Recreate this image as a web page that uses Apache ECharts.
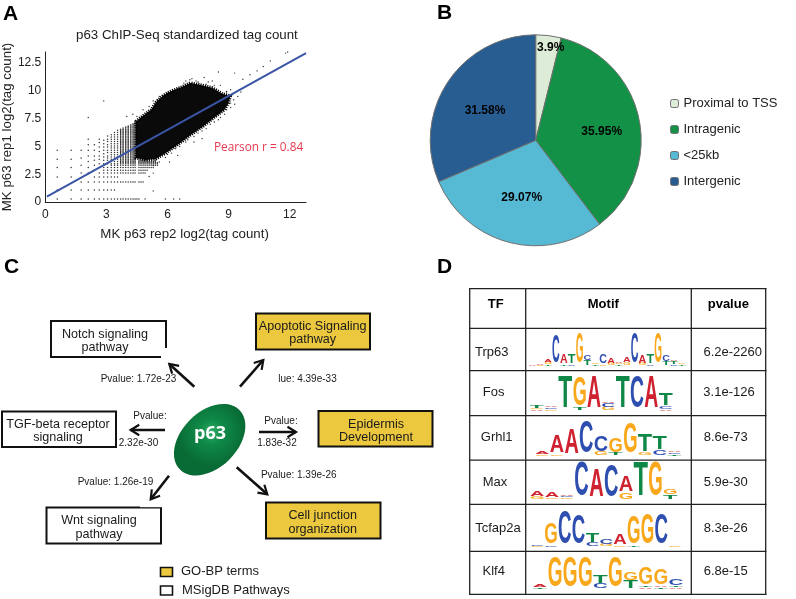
<!DOCTYPE html>
<html><head><meta charset="utf-8">
<style>html,body{margin:0;padding:0;background:#fff}#c{width:796px;height:599px}</style>
<script src="https://cdn.jsdelivr.net/npm/echarts@6/dist/echarts.min.js"></script>
</head><body><div id="c"></div>
<script>
// ---------- Panel A data ----------
const xLevels=[0.59,1.27,1.76,2.11,2.41,2.65,2.87,3.06,3.24,3.4,3.55,3.7,3.82,3.95,4.07,4.2,4.31,4.41,4.5,4.6,4.7,4.8,4.9,5.0,5.1,5.2,5.3,5.4,5.5,5.6,5.7,5.85,6.0,6.2,6.35,6.6];
const columnTops=[5.4,5.3,5.2,5.75,5.3,5.85,5.6,6.0,6.1,6.3,6.5,6.6,6.7,6.8,6.85,6.95,7.05,7.2,0.3,3.8,3.8,3.8,3.8,3.8,3.7,3.7,3.7,3.8,3.6,3.3,3.0,0.3,0.3,0.3,0.3,0.3];
const columnSpacing=[0.75,0.75,0.6,0.5,0.4,0.3,0.25,0.2,0.15,0.12,0.12,0,0,0,0,0,0,0,0,0,0,0,0,0,0,0,0,0,0,0,0,0,0,0,0,0];
const yLevels=[0.27,1.08,1.8,2.25,2.6,2.85,3.1,3.3,3.45,3.55,3.65,3.75,3.85,3.95,4.05,4.15,4.25,4.35,4.45,4.55,4.65,4.75,4.85,4.95,5.05,5.15,5.25,5.35,5.45,5.55,5.65,5.75,5.85,5.95,6.05,6.15,6.25,6.35,6.45,6.55,6.65,6.75,6.85,6.95,7.05,7.15];
const rowReach=[4.6,3.5,4.8,3.6,4.9,5.0,5.3,5.5,5.6,5.6,5.7,5.8,5.85,5.85,5.85,5.85,5.85,5.85,5.85,5.85,5.85,5.85,5.85,5.85,5.85,5.85,5.85,5.85,5.85,5.85,5.85,5.85,5.85,5.85,5.85,5.85,5.85,5.85,5.85,5.85,5.85,5.85,5.85,5.85,5.85,5.85];
const strayPoints=[[12.26,14.1],[12.2,13.8],[12.0,13.6],[11.8,13.4],[11.9,13.5],[11.05,12.7],[10.7,12.2],[10.4,11.8],[10.05,11.45],[9.7,11.05],[9.3,11.6],[8.5,11.7],[8.2,10.9],[7.8,11.2],[7.4,10.9],[7.2,11.1],[6.9,10.9],[6.8,10.7],[9.1,10.1],[8.9,8.3],[9.1,8.9],[8.4,8.0],[2.87,9.1],[2.11,7.6],[9.3,8.8],[9.45,9.5],[9.6,9.9],[8.9,9.95],[8.6,10.5],[8.0,10.8],[6.3,10.0],[6.0,9.8],[5.6,9.5],[5.3,9.1],[5.1,8.6],[4.8,8.3],[4.5,7.7],[4.3,7.9],[4.0,7.7],[8.6,7.6],[8.3,7.2],[7.9,6.6],[7.5,6.2],[7.0,5.6],[6.6,5.0],[6.2,4.4],[5.9,4.0],[5.6,3.6],[5.3,3.3],[5.9,0.27],[6.3,0.27],[6.6,0.27],[5.3,1.0],[4.9,0.27],[5.1,2.3],[5.3,2.6],[6.1,3.6],[6.5,4.2],[7.3,5.4],[7.7,5.7],[6.9,10.4],[7.1,11.0],[7.5,10.8],[7.9,10.6],[8.3,10.5],[6.5,10.2],[6.2,9.9],[5.8,9.4],[5.5,9.2],[8.9,9.9],[9.2,9.7],[9.25,9.2],[9.1,8.5],[8.8,7.9],[8.5,7.4],[8.1,7.0],[7.7,6.4],[7.3,5.9],[6.9,5.4],[6.4,4.8],[6.0,4.3]];
const cloudOutline=[[4.45,7.25],[4.9,7.9],[5.2,8.3],[5.45,9.0],[5.8,9.6],[6.2,10.0],[6.64,10.3],[7.13,10.72],[7.62,10.54],[8.21,10.27],[8.7,9.73],[9.09,9.55],[8.99,8.92],[8.79,8.29],[8.26,7.57],[7.77,6.85],[7.13,6.04],[6.55,5.23],[5.91,4.41],[5.42,3.87],[4.93,3.78],[4.45,3.96]];
const fitLine=[[0.08,0.48],[12.8,13.4]];
// ---------- Panel B data ----------
const regionNames=['Proximal to TSS','Intragenic','<25kb','Intergenic'];
const regionValues=[3.9,35.95,29.07,31.58];
const regionLabels=['3.9%','35.95%','29.07%','31.58%'];
const regionColors=['#dcecd6','#139146','#57bad5','#285d92'];
const regionLabelAt=[[550.7,48],[601.7,132],[521.7,197.7],[485,111]];
// ---------- Panel C data ----------
const pathwayNames=[['Notch signaling','pathway'],['Apoptotic Signaling','pathway'],['TGF-beta receptor','signaling'],['Epidermis','Development'],['Wnt signaling','pathway'],['Cell junction','organization']];
const pvalueTexts=['Pvalue: 1.72e-23','lue: 4.39e-33','Pvalue:','2.32e-30','Pvalue:','1.83e-32','Pvalue: 1.39e-26','Pvalue: 1.26e-19'];
// ---------- Panel D data ----------
const tfNames=['Trp63','Fos','Grhl1','Max','Tcfap2a','Klf4'];
const motifPvalues=['6.2e-2260','3.1e-126','8.6e-73','5.9e-30','8.3e-26','6.8e-15'];
const trp63Stacks=[[['A',.04]],[['G',.06],['A',.06]],[['T',.1],['G',.15],['A',.15]],[['C',2]],[['T',.1],['A',.65]],[['C',.1],['T',.65]],[['G',2.2]],[['T',.35],['C',.35]],[['T',.1],['G',.08]],[['G',.1],['C',.65]],[['G',.15],['A',.4]],[['T',.1],['G',.1],['A',.1]],[['G',.2],['A',.4]],[['C',2.2]],[['G',.15],['A',.6]],[['C',.1],['T',.65]],[['G',2.2]],[['T',.3],['C',.45]],[['C',.1],['T',.2],['A',.1]],[['T',.1],['G',.05]]];
const fosStacks=[[['A',.1],['G',.05],['T',.15]],[['G',.1],['C',.1],['A',.1]],[['T',2]],[['T',.15],['G',1.85]],[['A',2]],[['G',.2],['C',.25],['A',.1]],[['T',2]],[['C',2]],[['A',2]],[['A',.1],['C',.15],['T',.7]],[['T',.03]]];
const grhl1Stacks=[[['G',.1],['A',.15]],[['G',.1],['A',1.1]],[['A',1.55]],[['C',1.95]],[['G',.2],['C',1.0]],[['T',.15],['G',.9]],[['G',1.9]],[['G',.15],['T',1.1]],[['C',.3],['T',.8]],[['T',.1],['C',.1],['A',.05]]];
const maxStacks=[[['G',.15],['A',.3]],[['G',.1],['A',.3]],[['G',.1],['C',.1],['A',.1]],[['C',2]],[['A',1.6]],[['C',1.9]],[['G',.4],['A',.95]],[['T',2]],[['G',2]],[['T',.25],['G',.33]]];
const tcfap2aStacks=[[['G',.06],['C',.06]],[['C',.1],['G',1.3]],[['C',2]],[['C',1.75]],[['C',.2],['T',.6]],[['G',.15],['C',.35]],[['G',.1],['A',.65]],[['T',.05],['G',1.7]],[['G',1.85]],[['C',1.85]],[['G',.05]]];
const klf4Stacks=[[['T',.1],['A',.15]],[['G',1.95]],[['G',1.95]],[['G',1.95]],[['C',.35],['T',.5]],[['G',1.95]],[['T',.5],['G',.55]],[['A',.1],['T',.1],['G',1.15]],[['T',.1],['A',.1],['G',1.0]],[['A',.1],['T',.1],['C',.45]]];
const motifs=[trp63Stacks,fosStacks,grhl1Stacks,maxStacks,tcfap2aStacks,klf4Stacks];

// ---------- layout ----------
const SANS='"Liberation Sans",Arial,sans-serif';
const motifLayout=[ // first column centre, column width, baseline, px for 2 bits
 [532.3,7.87,365.7,28],[536.7,14.33,410.7,32],[542.3,14.67,455.7,32],[537.3,14.77,499.3,34],[537.3,13.77,546.7,32.7],[540,15.1,589,30.7]];
const adv={A:.722,C:.722,G:.778,T:.611};
const letterColor={A:'#cf2230',C:'#2f4fb0',G:'#f9a81c',T:'#0f8746'};
const GOLD='#ecc83f';

const txt=(x,y,text,o)=>({type:'text',x,y,silent:true,style:Object.assign({text,fill:'#1a1a1a',font:'12.6px '+SANS,textAlign:'center',textVerticalAlign:'middle'},o||{})});
const ln=(pts,w,c)=>({type:'polyline',silent:true,shape:{points:pts},style:{stroke:c||'#111',lineWidth:w||2,fill:null}});
const box=(x0,y0,x1,y1,fill,w)=>({type:'rect',silent:true,shape:{x:x0,y:y0,width:x1-x0,height:y1-y0},style:{fill,stroke:'#111',lineWidth:w||2}});
function arrow(x0,y0,x1,y1){
  const a=Math.atan2(y1-y0,x1-x0),L=10,s=0.55;
  return [ln([[x0,y0],[x1,y1]],2.6),ln([[x1-L*Math.cos(a-s),y1-L*Math.sin(a-s)],[x1,y1],[x1-L*Math.cos(a+s),y1-L*Math.sin(a+s)]],2.2)];
}
const g=[];
// panel letters
[['A',3,14],['B',437,13],['C',4,267],['D',437,267]].forEach(p=>g.push(txt(p[1],p[2],p[0],{font:'bold 21px '+SANS,fill:'#000',textAlign:'left'})));
// panel A text
g.push(txt(214,148,'Pearson r = 0.84',{font:'11.8px "Open Sans",sans-serif',fill:'#e8384f',textAlign:'left'}));
// panel C boxes
g.push(box(51,321,166,357,'#fff'));
g.push({type:'rect',silent:true,shape:{x:161,y:348,width:8,height:11},style:{fill:'#fff'}});
g.push(box(256,313.5,370,349.5,GOLD));
g.push(box(2,411.5,116,447,'#fff'));
g.push(box(318.5,411,432.5,446.5,GOLD));
g.push(box(46.5,507.5,161,543.5,'#fff',2));
g.push({type:'rect',silent:true,shape:{x:140,y:506,width:22,height:1.2},style:{fill:'#fff'}});
g.push(box(266,502.5,380.5,538.5,GOLD));
[[105,334.3,348],[312.7,326.7,340],[58,424.3,437.7],[376,424.7,438],[99,520.7,534.3],[322.7,516,529.3]].forEach((p,i)=>{
  g.push(txt(p[0],p[1],pathwayNames[i][0]),txt(p[0],p[2],pathwayNames[i][1]));
});
[[138.5,379.3],[307.5,379.3],[150,416.3],[138.5,443.3],[281,421],[277,443],[298.7,475.3],[115.5,482.3]].forEach((p,i)=>g.push(txt(p[0],p[1],pvalueTexts[i],{font:'10px '+SANS})));
[[194.3,386.7,169.3,364],[240,386.7,263.3,360],[165,430,130.7,430],[259,432,296,432],[169,475.7,150.7,499.3],[236.7,467.3,267.3,494.3]].forEach(a=>g.push(...arrow(...a)));
g.push({type:'ellipse',silent:true,x:209.7,y:439.7,rotation:Math.PI/4,shape:{cx:0,cy:0,rx:42,ry:28},
  style:{fill:new echarts.graphic.RadialGradient(0.58,0.42,0.62,[{offset:0,color:'#2fae66'},{offset:0.35,color:'#0f8a48'},{offset:1,color:'#086a34'}])}});
g.push(txt(210,434,'p63',{font:'bold 18px "Open Sans",sans-serif',fill:'#fff'}));
g.push(box(160.5,567.5,172.5,576.5,GOLD,1.6),box(160.5,586,172.5,595,'#fff',1.6));
g.push(txt(181,571,'GO-BP terms',{font:'13px '+SANS,textAlign:'left'}),txt(182,590,'MSigDB Pathways',{font:'13px '+SANS,textAlign:'left'}));
// panel D table
const vLines=[469.7,525.7,691.3,765.7],hLines=[288.7,328.3,370.7,415.7,460.2,504.3,551.3,594.3];
vLines.forEach(x=>g.push(ln([[x,288],[x,595]],1.3,'#222')));
hLines.forEach(y=>g.push(ln([[469,y],[766.4,y]],1.3,'#222')));
[['TF',495.7],['Motif',603.3],['pvalue',728.3]].forEach(h=>g.push(txt(h[1],304,h[0],{font:'bold 13px '+SANS,fill:'#000'})));
[[491.7,352.3],[493.7,392],[496.7,437],[495,482.3],[498,528.3],[493.7,571.7]].forEach((p,i)=>g.push(txt(p[0],p[1],tfNames[i],{font:'13px '+SANS})));
[[732.7,352.3],[729,392],[725.7,437],[725.7,482.3],[725.7,528.3],[725.7,571.7]].forEach((p,i)=>g.push(txt(p[0],p[1],motifPvalues[i],{font:'13px '+SANS})));

// scatter dots: discrete count levels
const gridDots=[];
xLevels.forEach((x,i)=>{
  let last=-9;
  yLevels.forEach((y,j)=>{
    if(y<=columnTops[i] && x<=rowReach[j] && y-last>=columnSpacing[i]){ gridDots.push([x,y]); last=y; }
  });
});

// grids
const grids=[{left:44,top:52,width:262,height:150}],xAxes=[{
  gridIndex:0,type:'value',min:0,max:12.8,interval:3,offset:1.6,splitLine:{show:false},axisTick:{show:false},
  axisLine:{lineStyle:{color:'#222',width:1}},axisLabel:{color:'#222',fontSize:12,fontFamily:SANS,margin:5,showMaxLabel:false},
  name:'MK p63 rep2 log2(tag count)',nameLocation:'middle',nameGap:24,nameTextStyle:{fontSize:13.3,color:'#222',fontFamily:SANS,padding:[0,0,0,18]}
}],yAxes=[{
  gridIndex:0,type:'value',min:0,max:13.5,interval:2.5,splitLine:{show:false},axisTick:{show:false},
  axisLine:{show:true,lineStyle:{color:'#222',width:1}},axisLabel:{color:'#222',fontSize:12,fontFamily:SANS,margin:4,showMaxLabel:false},
  name:'MK p63 rep1 log2(tag count)',nameLocation:'middle',nameGap:29,nameTextStyle:{fontSize:13.3,color:'#222',fontFamily:SANS}
}];
const series=[
 {type:'custom',xAxisIndex:0,yAxisIndex:0,silent:true,z:2,data:[[0,0]],renderItem:(p,api)=>({type:'polygon',shape:{points:cloudOutline.map(c=>api.coord(c))},style:{fill:'#0a0a0a',stroke:'#000',lineWidth:3.2,lineDash:[1.2,1.1]}})},
 {type:'scatter',xAxisIndex:0,yAxisIndex:0,silent:true,z:3,symbolSize:1.5,itemStyle:{color:'#000'},data:gridDots,large:false},
 {type:'scatter',xAxisIndex:0,yAxisIndex:0,silent:true,z:3,symbolSize:1.4,itemStyle:{color:'#000'},data:strayPoints},
 {type:'line',xAxisIndex:0,yAxisIndex:0,silent:true,z:4,symbol:'none',lineStyle:{color:'#3a55a5',width:2},data:fitLine},
 {type:'pie',center:[535.7,140.3],radius:105.5,startAngle:90,silent:true,
  itemStyle:{borderColor:'#707070',borderWidth:1},
  label:{position:'inside',color:'#000',fontSize:12,fontWeight:'bold',fontFamily:SANS,formatter:p=>regionLabels[p.dataIndex]},
  labelLine:{show:false},
  labelLayout:p=>({x:regionLabelAt[p.dataIndex][0],y:regionLabelAt[p.dataIndex][1],align:'center',verticalAlign:'middle'}),
  data:regionNames.map((n,i)=>({name:n,value:regionValues[i],itemStyle:{color:regionColors[i]}}))}
];
// motif logos: one small cartesian grid per table row, x=position, y=bits
motifs.forEach((stacks,m)=>{
  const L=motifLayout[m],n=stacks.length,idx=m+1;
  grids.push({left:L[0]-L[1]/2,width:L[1]*n,top:L[2]-L[3],height:L[3]});
  xAxes.push({gridIndex:idx,type:'value',min:-0.5,max:n-0.5,show:false});
  yAxes.push({gridIndex:idx,type:'value',min:0,max:2,show:false});
  const rows=[];
  stacks.forEach((st,i)=>{let b=0;st.forEach(s=>{rows.push({value:[i,b,s[1]],letter:s[0]});b+=s[1];});});
  series.push({type:'custom',xAxisIndex:idx,yAxisIndex:idx,silent:true,z:5,clip:false,data:rows,
    renderItem:(p,api)=>{
      const v=[api.value(0),api.value(1),api.value(2)],le=rows[p.dataIndex].letter;
      const base=api.coord([v[0],v[1]]),top=api.coord([v[0],v[1]+v[2]]);
      const h=base[1]-top[1],w=api.size([1,0])[0];
      return {type:'text',x:base[0],y:(base[1]+top[1])/2,scaleX:w*0.98/(adv[le]*100),scaleY:h/71.6,
        style:{text:le,x:0,y:0,fontSize:100,fontWeight:'bold',fontFamily:SANS,fill:letterColor[le],textAlign:'center',textVerticalAlign:'middle'}};
    }});
});

const chart=echarts.init(document.getElementById('c'),null,{renderer:'canvas'});
chart.setOption({
  animation:false,backgroundColor:'#fff',
  title:{text:'p63 ChIP-Seq standardized tag count',left:71,top:24,textStyle:{fontSize:13.3,fontWeight:'normal',color:'#222',fontFamily:SANS}},
  legend:{orient:'vertical',left:670,top:97,padding:0,itemWidth:8,itemHeight:8,itemGap:13,selectedMode:false,
    data:regionNames,textStyle:{fontSize:13,color:'#222',fontFamily:SANS,padding:[3,0,0,0]},
    itemStyle:{borderColor:'#707070',borderWidth:1}},
  grid:grids,xAxis:xAxes,yAxis:yAxes,series,graphic:{elements:g}
});
</script></body></html>
